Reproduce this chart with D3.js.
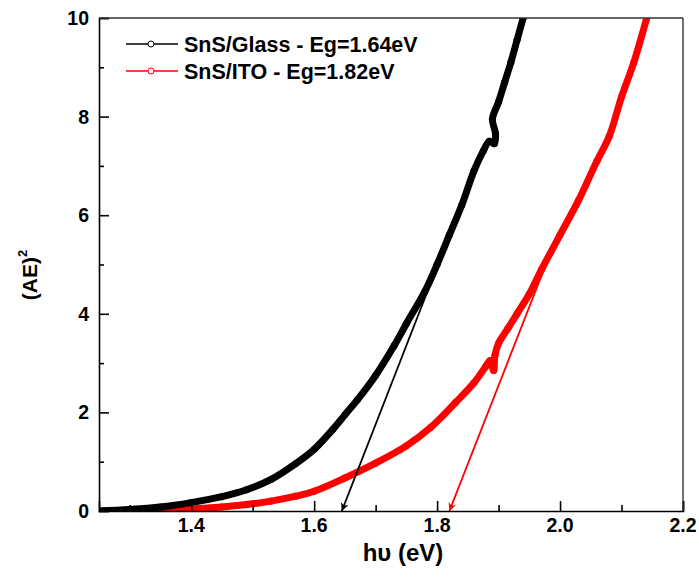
<!DOCTYPE html>
<html>
<head>
<meta charset="utf-8">
<script src="https://cdn.jsdelivr.net/npm/d3@7"></script>
<style>
body { margin: 0; background: #fff; }
svg text { font-family: Arial, "Liberation Sans", sans-serif; font-weight: bold; }
</style>
</head>
<body>
<svg id="chart" width="699" height="579"></svg>
<script>

// SnS/Glass
var glassX = [1.25,1.30,1.35,1.40,1.45,1.49,1.53,1.57,1.60,1.63,1.65,1.67,1.70,1.73,1.75,1.78,1.80,1.82,1.84,1.86,1.875,1.885,1.893,1.895,1.890,1.90,1.91,1.92,1.93,1.94];
var glassY = [0,0.03,0.08,0.17,0.29,0.43,0.64,0.96,1.25,1.65,1.95,2.25,2.75,3.35,3.8,4.45,5.0,5.6,6.2,6.9,7.3,7.5,7.45,7.65,7.95,8.3,8.7,9.1,9.55,10];

// SnS/ITO
var itoX = [1.25,1.30,1.35,1.40,1.45,1.49,1.53,1.57,1.60,1.65,1.70,1.75,1.79,1.83,1.86,1.88,1.886,1.892,1.894,1.90,1.915,1.93,1.95,1.97,2.00,2.03,2.06,2.08,2.10,2.12,2.141];
var itoY = [0,0.01,0.02,0.04,0.08,0.13,0.2,0.3,0.4,0.67,0.97,1.32,1.7,2.2,2.6,2.95,3.05,2.85,3.15,3.4,3.7,4.0,4.4,4.9,5.6,6.3,7.1,7.6,8.4,9.1,10];

// tangent (fit) lines: [start, end], end is the gap value
var glassFitX = [1.803, 1.645];
var glassFitY = [5.05, 0];
var itoFitX = [1.977, 1.82];
var itoFitY = [5.0, 0];

var legendLabels = ["SnS/Glass - Eg=1.64eV", "SnS/ITO - Eg=1.82eV"];
var colors = ["#000000", "#ff0000"];
var xTicks = [1.4, 1.6, 1.8, 2.0, 2.2];
var yTicks = [0, 2, 4, 6, 8, 10];

var mLeft = 99, mRight = 683, mTop = 18, mBottom = 511;

var svg = d3.select("#chart");

var xScale = d3.scaleLinear().domain([1.25, 2.2]).range([mLeft, mRight]);
var yScale = d3.scaleLinear().domain([0, 10]).range([mBottom, mTop]);

var defs = svg.append("defs");
colors.forEach(function(c, i){
    defs.append("marker")
        .attr("id", "arrow" + i)
        .attr("viewBox", "0 0 10 10")
        .attr("refX", 10).attr("refY", 5)
        .attr("markerWidth", 12).attr("markerHeight", 8)
        .attr("markerUnits", "userSpaceOnUse")
        .attr("orient", "auto")
        .append("path")
        .attr("d", "M0,0 L10,5 L0,10 L3,5 Z")
        .attr("fill", c);
});

var series = [
    {x: glassX, y: glassY, fx: glassFitX, fy: glassFitY},
    {x: itoX, y: itoY, fx: itoFitX, fy: itoFitY}
];

var clip = defs.append("clipPath").attr("id", "plotclip");
clip.append("rect").attr("x", mLeft).attr("y", mTop).attr("width", mRight - mLeft).attr("height", mBottom - mTop);

var plot = svg.append("g").attr("clip-path", "url(#plotclip)");

var line = d3.line()
    .curve(d3.curveCatmullRom)
    .x(d => xScale(d[0]))
    .y(d => yScale(d[1]));

// red first so black sits on top at low energy like the reference
[1, 0].forEach(function(i){
    var s = series[i];
    var pts = s.x.map((v, k) => [v, s.y[k]]);
    plot.append("path")
        .datum(pts)
        .attr("d", line)
        .attr("fill", "none")
        .attr("stroke", colors[i])
        .attr("stroke-width", 7)
        .attr("stroke-linejoin", "round")
        .attr("stroke-linecap", "round");
    plot.selectAll(".pt" + i)
        .data(pts)
        .enter().append("circle")
        .attr("cx", d => xScale(d[0]))
        .attr("cy", d => yScale(d[1]))
        .attr("r", 3.2)
        .attr("fill", "none")
        .attr("stroke", colors[i])
        .attr("stroke-width", 1);
});

series.forEach(function(s, i){
    svg.append("line")
        .attr("x1", xScale(s.fx[0])).attr("y1", yScale(s.fy[0]))
        .attr("x2", xScale(s.fx[1])).attr("y2", yScale(s.fy[1]))
        .attr("stroke", colors[i])
        .attr("stroke-width", 1.8)
        .attr("marker-end", "url(#arrow" + i + ")");
});

// axes
var xAxis = svg.append("g")
    .attr("transform", "translate(0," + mBottom + ")")
    .call(d3.axisBottom(xScale).tickValues(d3.range(1.3, 2.21, 0.1)).tickSize(-10).tickFormat(""));
xAxis.selectAll(".tick line").attr("y2", function(d){
    return xTicks.some(t => Math.abs(t - d) < 1e-6) ? -10 : -6;
});
xAxis.select(".domain").attr("stroke-width", 1.6);
xAxis.selectAll(".tick line").attr("stroke-width", 1.6);

var yAxis = svg.append("g")
    .attr("transform", "translate(" + mLeft + ",0)")
    .call(d3.axisLeft(yScale).tickValues(d3.range(0, 10.5, 1)).tickSize(-10).tickFormat(""));
yAxis.selectAll(".tick line").attr("x2", function(d){
    return d % 2 == 0 ? 10 : 5;
});
yAxis.select(".domain").attr("stroke-width", 1.6);
yAxis.selectAll(".tick line").attr("stroke-width", 1.6);

// frame top/right
svg.append("line").attr("x1", mLeft).attr("x2", mRight).attr("y1", mTop).attr("y2", mTop)
    .attr("stroke", "#333").attr("stroke-width", 1.4);
svg.append("line").attr("x1", mRight).attr("x2", mRight).attr("y1", mTop).attr("y2", mBottom)
    .attr("stroke", "#333").attr("stroke-width", 1.4);

// tick labels
svg.selectAll(".xlab")
    .data(xTicks)
    .enter().append("text")
    .attr("x", d => xScale(d))
    .attr("y", mBottom + 21)
    .attr("text-anchor", "middle")
    .attr("font-size", 19.5)
    .text(d => d.toFixed(1));

svg.selectAll(".ylab")
    .data(yTicks)
    .enter().append("text")
    .attr("x", mLeft - 10)
    .attr("y", d => yScale(d) + 7)
    .attr("text-anchor", "end")
    .attr("font-size", 19.5)
    .text(d => d);

// axis titles
svg.append("text")
    .attr("x", (mLeft + mRight) / 2 + 12)
    .attr("y", 561)
    .attr("text-anchor", "middle")
    .attr("font-size", 24)
    .text("hυ (eV)");

var yt = svg.append("text")
    .attr("transform", "translate(37,275) rotate(-90)")
    .attr("text-anchor", "middle")
    .attr("font-size", 21);
yt.append("tspan").text("(AE)");
yt.append("tspan").attr("font-size", 13).attr("dy", -10).text("2");

// legend
legendLabels.forEach(function(label, i){
    var ly = 44 + i * 27;
    svg.append("line")
        .attr("x1", 126).attr("x2", 178)
        .attr("y1", ly).attr("y2", ly)
        .attr("stroke", colors[i]).attr("stroke-width", 1.6);
    svg.append("circle")
        .attr("cx", 151).attr("cy", ly).attr("r", 3)
        .attr("fill", "#fff").attr("stroke", colors[i]).attr("stroke-width", 1);
    svg.append("text")
        .attr("x", 184).attr("y", ly + 8)
        .attr("font-size", 21.5)
        .text(label);
});

</script>
</body>
</html>
